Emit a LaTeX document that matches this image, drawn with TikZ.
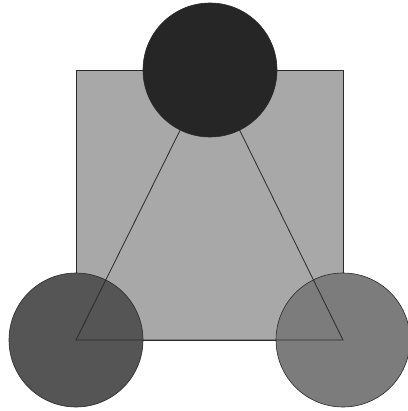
\documentclass[tikz,border=0pt]{standalone}
\usepackage{xcolor}
\usepackage{tikz}
\usetikzlibrary{positioning}
\definecolor{Edge}{HTML}{2A2A2A}
\definecolor{Panel}{HTML}{A8A8A8}
\definecolor{DarkDisc}{HTML}{262626}
\definecolor{MidDisc}{HTML}{555555}
\definecolor{LightDisc}{HTML}{7C7C7C}

\begin{document}
\begin{tikzpicture}[
  x=1pt, y=-1pt,
  panel/.style={draw=Edge, line width=0.6pt, fill=Panel, inner sep=0pt, outer sep=0pt,
    minimum width=267pt, minimum height=270pt},
  disc/.style={circle, draw=Edge, line width=0.6pt, inner sep=0pt, outer sep=0pt,
    minimum size=134pt},
  edge/.style={draw=Edge, line width=0.8pt}
]
  \useasboundingbox (0,0) rectangle (407,411);
  \node[panel] (square) at (209.5,205) {};
  \node[disc, fill=MidDisc] (left) at (square.south west) {};
  \node[disc, fill=LightDisc] (right) at (square.south east) {};
  \coordinate (apex) at (210,70);

  \draw[edge] (square.south west) -- (square.south east) -- (apex) -- cycle;
  \node[disc, fill=DarkDisc] (top) at (apex) {};
\end{tikzpicture}
\end{document}
